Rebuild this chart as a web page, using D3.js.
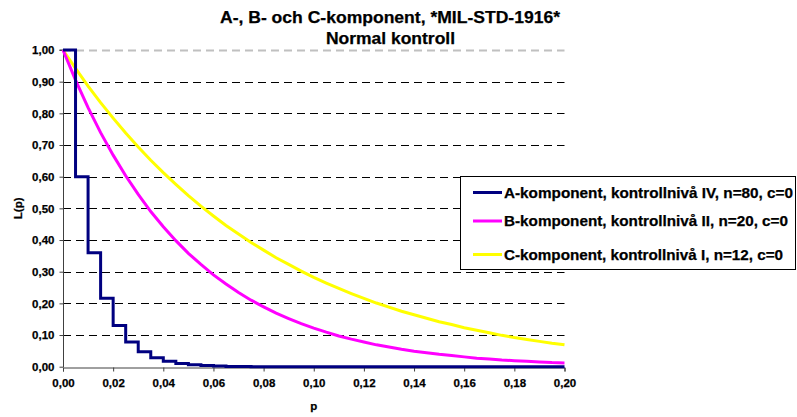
<!DOCTYPE html>
<html>
<head>
<meta charset="utf-8">
<script src="https://cdn.jsdelivr.net/npm/d3@7"></script>
<style>
  html, body { margin: 0; padding: 0; background: #fff; }
  svg { display: block; }
  text { font-family: "Liberation Sans", Arial, sans-serif; font-weight: bold; fill: #000; }
</style>
</head>
<body>
<svg id="chart" width="797" height="417"></svg>
<script>
// Defect fraction p (x axis)
const pValues = [0, 0.005, 0.01, 0.015, 0.02, 0.025, 0.03, 0.035, 0.04, 0.045,
  0.05, 0.055, 0.06, 0.065, 0.07, 0.075, 0.08, 0.085, 0.09, 0.095,
  0.10, 0.105, 0.11, 0.115, 0.12, 0.125, 0.13, 0.135, 0.14, 0.145,
  0.15, 0.155, 0.16, 0.165, 0.17, 0.175, 0.18, 0.185, 0.19, 0.195, 0.20];

// Probability of acceptance L(p) for each sampling plan
const seriesA = [1.000, 0.600, 0.360, 0.216, 0.130, 0.078, 0.047, 0.028, 0.017, 0.010,
  0.006, 0.004, 0.002, 0.001, 0.001, 0, 0, 0, 0, 0,
  0, 0, 0, 0, 0, 0, 0, 0, 0, 0,
  0, 0, 0, 0, 0, 0, 0, 0, 0, 0, 0];
const seriesB = [1.000, 0.905, 0.818, 0.739, 0.668, 0.603, 0.544, 0.490, 0.442, 0.398,
  0.358, 0.323, 0.290, 0.261, 0.234, 0.210, 0.189, 0.169, 0.152, 0.136,
  0.122, 0.109, 0.097, 0.087, 0.078, 0.069, 0.062, 0.055, 0.049, 0.044,
  0.039, 0.035, 0.031, 0.027, 0.024, 0.021, 0.019, 0.017, 0.015, 0.013, 0.012];
const seriesC = [1.000, 0.942, 0.886, 0.834, 0.785, 0.738, 0.694, 0.652, 0.613, 0.576,
  0.540, 0.507, 0.476, 0.446, 0.419, 0.392, 0.368, 0.344, 0.323, 0.302,
  0.282, 0.264, 0.247, 0.231, 0.216, 0.201, 0.188, 0.175, 0.164, 0.153,
  0.142, 0.133, 0.123, 0.115, 0.107, 0.099, 0.092, 0.086, 0.080, 0.074, 0.069];

const seriesNames = [
  "A-komponent, kontrollnivå IV, n=80, c=0",
  "B-komponent, kontrollnivå II, n=20, c=0",
  "C-komponent, kontrollnivå I, n=12, c=0"
];
const seriesColors = ["#000080", "#FF00FF", "#FFFF00"];

const xTicks = [0, 0.02, 0.04, 0.06, 0.08, 0.10, 0.12, 0.14, 0.16, 0.18, 0.20];
const yTicks = [0, 0.1, 0.2, 0.3, 0.4, 0.5, 0.6, 0.7, 0.8, 0.9, 1.0];

const titleLines = ["A-, B- och C-komponent, *MIL-STD-1916*", "Normal kontroll"];

const svg = d3.select("#chart");
const plot = { left: 63, right: 564.5, top: 50, bottom: 366.7 };

const x = d3.scaleLinear().domain([0, 0.2]).range([plot.left, plot.right]);
const y = d3.scaleLinear().domain([0, 1]).range([plot.bottom, plot.top]);
const fmt = v => d3.format(".2f")(v).replace(".", ",");
const boldText = sel => sel.style("font-family", "'Liberation Sans', Arial, sans-serif")
  .style("font-weight", "bold").attr("fill", "#000")
  .attr("stroke", "#000").attr("stroke-width", 0.25);

// Horizontal gridlines
svg.append("g").selectAll("line")
  .data(yTicks.filter(v => v > 0))
  .join("line")
  .attr("x1", plot.left).attr("x2", plot.right)
  .attr("y1", d => Math.round(y(d)) + 0.5).attr("y2", d => Math.round(y(d)) + 0.5)
  .attr("stroke", d => d === 1 ? "#c0c0c0" : "#000")
  .attr("stroke-width", d => d === 1 ? 2 : 1)
  .attr("stroke-dasharray", "8,5");

// Axes
const yAxis = d3.axisLeft(y).tickValues(yTicks).tickFormat(fmt).tickSize(4).tickPadding(5);
const xAxis = d3.axisBottom(x).tickValues(xTicks).tickFormat(fmt).tickSize(4).tickPadding(7);

const gy = svg.append("g").attr("transform", `translate(${plot.left + 0.5},0)`).call(yAxis);
const gx = svg.append("g").attr("transform", `translate(0,${Math.round(plot.bottom) + 0.5})`).call(xAxis);
[gx, gy].forEach(g => {
  g.select(".domain").attr("stroke", "#404040");
  g.selectAll(".tick line").attr("stroke", "#404040");
  g.selectAll(".tick text").style("font-size", "11.5px").call(boldText);
});
gy.select(".domain").attr("d", `M-4,${y(1)}H0V${Math.round(plot.bottom)}`);

// Curves
const data = [seriesA, seriesB, seriesC];
const curves = [d3.curveStepAfter, d3.curveLinear, d3.curveLinear];
const drawOrder = [2, 1, 0];
drawOrder.forEach(i => {
  const line = d3.line()
    .x((d, k) => x(pValues[k]))
    .y(d => y(d))
    .curve(curves[i]);
  svg.append("path")
    .datum(data[i])
    .attr("d", line)
    .attr("fill", "none")
    .attr("stroke", seriesColors[i])
    .attr("stroke-width", 3)
    .attr("stroke-linejoin", "miter");
});

// Titles
svg.append("text").attr("x", 390).attr("y", 22.5).attr("text-anchor", "middle")
  .style("font-size", "16px").attr("textLength", 340).attr("lengthAdjust", "spacingAndGlyphs")
  .call(boldText).text(titleLines[0]);
svg.append("text").attr("x", 390.5).attr("y", 44).attr("text-anchor", "middle")
  .style("font-size", "16px").attr("textLength", 129).attr("lengthAdjust", "spacingAndGlyphs")
  .call(boldText).text(titleLines[1]);

// Axis labels
svg.append("text").attr("transform", `translate(22,${(plot.top + plot.bottom) / 2}) rotate(-90)`)
  .attr("text-anchor", "middle").style("font-size", "11.5px").call(boldText).text("L(p)");
svg.append("text").attr("x", x(0.1)).attr("y", 410).attr("text-anchor", "middle")
  .style("font-size", "11.5px").call(boldText).text("p");

// Legend
const legend = svg.append("g");
legend.append("rect").attr("x", 460.5).attr("y", 176.5).attr("width", 335).attr("height", 93)
  .attr("fill", "#fff").attr("stroke", "#000").attr("stroke-width", 1);
const legendY = [192.5, 221, 254.5];
const legendW = [289, 284, 279];
seriesNames.forEach((name, i) => {
  legend.append("line").attr("x1", 473).attr("x2", 502)
    .attr("y1", legendY[i]).attr("y2", legendY[i])
    .attr("stroke", seriesColors[i]).attr("stroke-width", 3);
  legend.append("text").attr("x", 504).attr("y", legendY[i] + 5)
    .style("font-size", "14px").attr("textLength", legendW[i]).attr("lengthAdjust", "spacingAndGlyphs")
    .call(boldText).text(name);
});
</script>
</body>
</html>
